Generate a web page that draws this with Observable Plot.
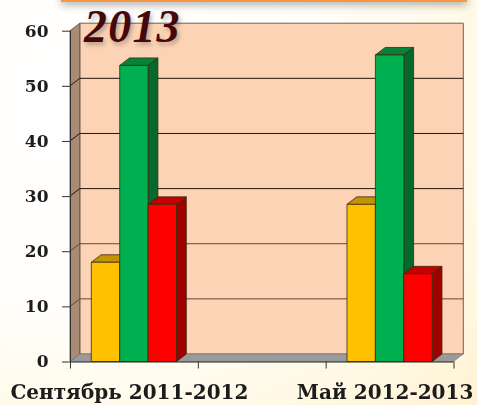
<!DOCTYPE html>
<html><head><meta charset="utf-8">
<script src="https://cdn.jsdelivr.net/npm/d3@7"></script>
<script src="https://cdn.jsdelivr.net/npm/@observablehq/plot@0.6"></script>
<style>
html,body{margin:0;padding:0;width:477px;height:405px;overflow:hidden}
body{position:relative;background:radial-gradient(ellipse 560px 460px at 15% 25%,#ffffff 0%,#fffefa 45%,#fffae8 72%,#fff2d2 100%)}
#banner{position:absolute;left:61px;top:-10px;width:406px;height:10px;background:#f79646;border-bottom:2.5px solid #f79646;box-shadow:0 3px 9px rgba(0,0,0,.3)}
#year{position:absolute;left:84px;top:2px;font:italic bold 46px "Liberation Serif",serif;letter-spacing:1.2px;color:#43090c;text-shadow:2px 3px 4px rgba(0,0,0,.25);z-index:2;line-height:50px}
svg{position:absolute;left:0;top:0;background:none!important;filter:blur(.3px)}
</style></head><body>
<div id="banner"></div>
<div id="year">2013</div>
<script>
const groups = ["Сентябрь 2011-2012", "Май 2012-2013"];
const groupSlots = [0, 2];
const seriesNames = ["Жёлтый", "Зелёный", "Красный"];
const yellowValues = [18, 28.5];
const greenValues = [53.7, 55.6];
const redValues = [28.5, 15.9];
const seriesValues = [yellowValues, greenValues, redValues];
const frontColors = ["#ffc000", "#00b050", "#ff0000"];
const sideColors = ["#a87e00", "#05692e", "#a00000"];
const topColors = ["#c49300", "#078238", "#c60000"];
const yTicks = [0, 10, 20, 30, 40, 50, 60];
const xTicks = [0, 1, 2, 3];

const DX = 9.8, DY = -7.5;   // oblique depth of the pseudo-3D frame
const slot = 1 / 4.5;        // bar width in category units (gap = 150%)

const bars = [];
groups.forEach((g, i) => seriesNames.forEach((s, j) => bars.push({
  group: g, series: j,
  x1: groupSlots[i] + slot * (0.75 + j),
  x2: groupSlots[i] + slot * (1.75 + j),
  value: seriesValues[j][i]
})));

function poly(pts, fill, stroke = "#3a2a10", sw = 0.8) {
  const p = document.createElementNS("http://www.w3.org/2000/svg", "polygon");
  p.setAttribute("points", pts.map(d => d.join(",")).join(" "));
  p.setAttribute("fill", fill);
  p.setAttribute("stroke", stroke);
  p.setAttribute("stroke-width", sw);
  return p;
}
const group = () => document.createElementNS("http://www.w3.org/2000/svg", "g");

const frame = (index, {x, y}) => {
  const g = group();
  const x0 = x(0), x1 = x(3), y0 = y(0), y1 = y(60);
  g.append(poly([[x0+DX,y1+DY],[x1+DX,y1+DY],[x1+DX,y0+DY],[x0+DX,y0+DY]], "#fcd3b5", "#6e6257", 1));
  g.append(poly([[x0,y0],[x0+DX,y0+DY],[x0+DX,y1+DY],[x0,y1]], "#a98a75", "#55493f", 0.8));
  g.append(poly([[x0,y0],[x1,y0],[x1+DX,y0+DY],[x0+DX,y0+DY]], "#9a9a9a", "#77736e", 0.6));
  yTicks.slice(1, -1).forEach(t => {
    const l = document.createElementNS("http://www.w3.org/2000/svg", "polyline");
    l.setAttribute("points", `${x0},${y(t)} ${x0+DX},${y(t)+DY} ${x1+DX},${y(t)+DY}`);
    l.setAttribute("fill", "none");
    l.setAttribute("stroke", t >= 30 ? "#24140c" : "#6a4630");
    l.setAttribute("stroke-width", 1);
    g.append(l);
  });
  return g;
};

const prisms = (index, {x, y}) => {
  const g = group();
  bars.forEach(b => {
    const a = x(b.x1), c = x(b.x2), t = y(b.value), z = y(0);
    g.append(poly([[c,z],[c+DX,z+DY],[c+DX,t+DY],[c,t]], sideColors[b.series]));
    g.append(poly([[a,t],[a+DX,t+DY],[c+DX,t+DY],[c,t]], topColors[b.series]));
    g.append(poly([[a,z],[c,z],[c,t],[a,t]], frontColors[b.series]));
  });
  return g;
};

const chart = Plot.plot({
  width: 477, height: 405,
  marginLeft: 70, marginRight: 23.5, marginTop: 30.7, marginBottom: 43.5,
  style: {background: "none"},
  x: {domain: [0, 3], axis: null},
  y: {domain: [0, 60], axis: null},
  marks: [
    frame,
    prisms,
    Plot.ruleY([0], {stroke: "#222", strokeWidth: 1}),
    Plot.ruleX([0], {stroke: "#333", strokeWidth: 1, y1: 0, y2: 60}),
    Plot.axisY(yTicks, {
      anchor: "left", tickSize: 8, tickPadding: 14, stroke: "#333",
      fontFamily: "DejaVu Serif", fontWeight: "bold", fontSize: 17, fill: "#1c1c1c"
    }),
    Plot.axisX(xTicks, {
      anchor: "bottom", tickSize: 7, tickFormat: () => "", stroke: "#333"
    }),
    Plot.text(groups, {
      x: (d, i) => groupSlots[i] + 0.5, y: 0, text: d => d,
      dx: -5, dy: 31, fontFamily: "DejaVu Serif", fontWeight: "bold", fontSize: 20, fill: "#1c1c1c"
    })
  ]
});
document.body.append(chart);
</script>
</body></html>
